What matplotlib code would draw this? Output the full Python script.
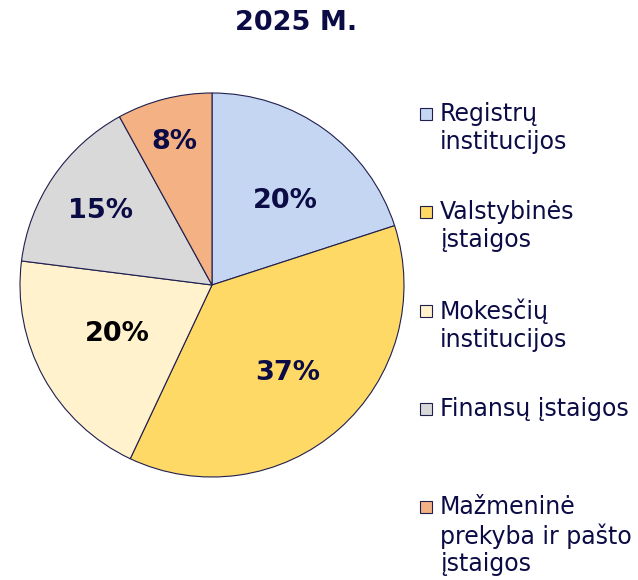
import matplotlib.pyplot as plt
import numpy as np

# data
categories = ['Registrų\ninstitucijos', 'Valstybinės\nįstaigos', 'Mokesčių\ninstitucijos',
              'Finansų įstaigos', 'Mažmeninė\nprekyba ir pašto\nįstaigos']
shares = [20, 37, 20, 15, 8]
colors = ['#C5D6F2', '#FFD966', '#FFF2CC', '#D9D9D9', '#F4B183']
label_colors = ['#0B0B45', '#0B0B45', '#000000', '#0B0B45', '#0B0B45']
label_radius = [0.59, 0.60, 0.55, 0.70, 0.78]
label_turn = [-4.5, 0, -2.5, 0, 0]  # degrees, nudges label off the mid-angle

navy = '#0B0B45'
W, H = 638, 580
fig = plt.figure(figsize=(W / 100, H / 100), dpi=100)
plt.rcParams['font.family'] = ['DejaVu Sans']

ax = fig.add_axes([20 / W, 1 - 477 / H, 384 / W, 384 / H])
wedges, texts = ax.pie(shares, colors=colors, startangle=90, counterclock=False,
                       wedgeprops=dict(edgecolor='#1F1F4F', linewidth=0.8))
ax.set_xlim(-1, 1)
ax.set_ylim(-1, 1)
ax.set_aspect('equal')

for w, v, r, t, c in zip(wedges, shares, label_radius, label_turn, label_colors):
    ang = np.deg2rad((w.theta1 + w.theta2) / 2 + t)
    ax.text(r * np.cos(ang), r * np.sin(ang) - 0.01, f'{v}%', ha='center', va='center',
            fontsize=19.5, fontweight='bold', color=c)

fig.text(296 / W, 1 - 23 / H, '2025 M.', ha='center', va='center',
         fontsize=19.5, fontweight='bold', color=navy)

# legend drawn by hand (y = baseline of first line, px)
leg_y = [121, 219, 318, 416, 514]
for cat, col, y in zip(categories, colors, leg_y):
    fig.patches.append(plt.Rectangle((420 / W, 1 - (y - 1) / H), 12 / W, 12 / H,
                                     transform=fig.transFigure, facecolor=col,
                                     edgecolor='#1F1F4F', linewidth=0.8))
    fig.text(440 / W, 1 - (y - 19) / H, cat, ha='left', va='top', fontsize=17,
             color=navy, linespacing=1.2)

fig.savefig('out.png', dpi=100)
